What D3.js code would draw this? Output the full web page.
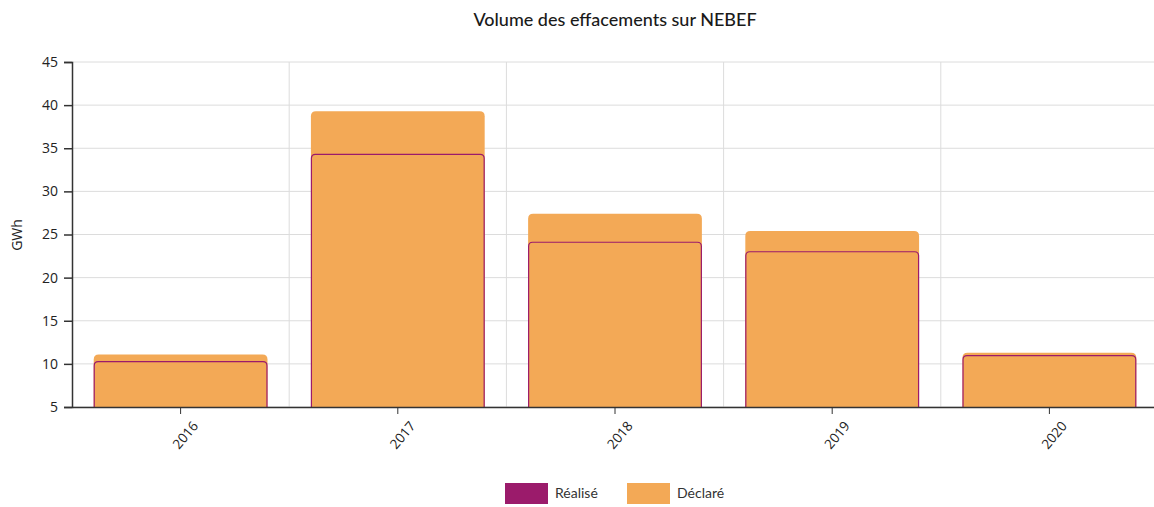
<!DOCTYPE html>
<html>
<head>
<meta charset="utf-8">
<script src="https://cdn.jsdelivr.net/npm/d3@7"></script>
<style>
  body { margin: 0; background: #fff; }
  text { font-family: "Open Sans", "Liberation Sans", sans-serif; }
</style>
</head>
<body>
<svg id="chart" width="1154" height="507"></svg>
<script>
var years = ["2016", "2017", "2018", "2019", "2020"];
var declare = [11.1, 39.3, 27.4, 25.4, 11.3];
var realise = [10.25, 34.3, 24.1, 23.0, 10.95];
var yTicks = [5, 10, 15, 20, 25, 30, 35, 40, 45];

var orange = "#f3a956", purple = "#9b1b6b";

var svg = d3.select("#chart");
var margin = {left: 72, top: 62, right: 1158, bottom: 407};

var x = d3.scaleBand().domain(years).range([margin.left, margin.right]).paddingInner(0.2).paddingOuter(0.1);
var y = d3.scaleLinear().domain([5, 45]).range([margin.bottom, margin.top]);

// grid
svg.append("g").selectAll("line").data(yTicks).enter().append("line")
  .attr("x1", margin.left).attr("x2", margin.right)
  .attr("y1", function(d){ return y(d); }).attr("y2", function(d){ return y(d); })
  .attr("stroke", "#dcdcdc").attr("stroke-width", 1);

var step = x.step();
svg.append("g").selectAll("line").data(years.slice(1)).enter().append("line")
  .attr("x1", function(d){ return x(d) - step * 0.1; })
  .attr("x2", function(d){ return x(d) - step * 0.1; })
  .attr("y1", margin.top).attr("y2", margin.bottom)
  .attr("stroke", "#dcdcdc").attr("stroke-width", 1);

// top-rounded bar path
function barPath(x0, w, yTop, yBot, r) {
  return "M" + x0 + "," + yBot +
    "V" + (yTop + r) +
    "Q" + x0 + "," + yTop + " " + (x0 + r) + "," + yTop +
    "H" + (x0 + w - r) +
    "Q" + (x0 + w) + "," + yTop + " " + (x0 + w) + "," + (yTop + r) +
    "V" + yBot;
}

var bars = svg.append("g");
years.forEach(function(yr, i) {
  var bx = x(yr), bw = x.bandwidth();
  bars.append("path")
    .attr("d", barPath(bx, bw, y(declare[i]), y(5), 5) + "Z")
    .attr("fill", orange);
  bars.append("path")
    .attr("d", barPath(bx + 0.5, bw - 1, y(realise[i]), y(5), 4))
    .attr("fill", orange)
    .attr("stroke", purple).attr("stroke-width", 1.2);
});

// axes
var yAxis = svg.append("g").attr("transform", "translate(" + margin.left + ",0)")
  .call(d3.axisLeft(y).tickValues(yTicks).tickSize(8).tickPadding(6));
yAxis.select(".domain").attr("stroke", "#333").attr("stroke-width", 1.5);
yAxis.selectAll(".tick line").attr("stroke", "#333").attr("stroke-width", 1.5);
yAxis.selectAll("text").attr("font-size", 14).attr("fill", "#222");

var xAxis = svg.append("g").attr("transform", "translate(0," + margin.bottom + ")")
  .call(d3.axisBottom(x).tickSize(7).tickSizeOuter(0));
xAxis.select(".domain").attr("stroke", "#333").attr("stroke-width", 1.5);
xAxis.selectAll(".tick line").attr("stroke", "#333");
xAxis.selectAll("text")
  .attr("font-size", 13.5).attr("fill", "#222")
  .attr("text-anchor", "end")
  .attr("transform", "translate(4,2) rotate(-50)")
  .attr("dx", "-0.3em").attr("dy", "0.9em");

// y label
svg.append("text").attr("transform", "translate(22,235) rotate(-90)")
  .attr("text-anchor", "middle").attr("font-size", 14).attr("fill", "#222").text("GWh");

// title
svg.append("text").attr("x", 615).attr("y", 26).attr("text-anchor", "middle")
  .style("font-family", "Lato, sans-serif").style("font-weight", 500).attr("font-size", 18).attr("fill", "#1a1a1a")
  .text("Volume des effacements sur NEBEF");

// legend
var legend = [{label: "Réalisé", color: purple, x: 505}, {label: "Déclaré", color: orange, x: 627}];
var lg = svg.append("g").selectAll("g").data(legend).enter().append("g");
lg.append("rect").attr("x", function(d){ return d.x; }).attr("y", 483)
  .attr("width", 43).attr("height", 21).attr("fill", function(d){ return d.color; });
lg.append("text").attr("x", function(d){ return d.x + 50; }).attr("y", 498)
  .style("font-family", "Lato, sans-serif").attr("font-size", 14).attr("fill", "#333")
  .text(function(d){ return d.label; });
</script>
</body>
</html>
